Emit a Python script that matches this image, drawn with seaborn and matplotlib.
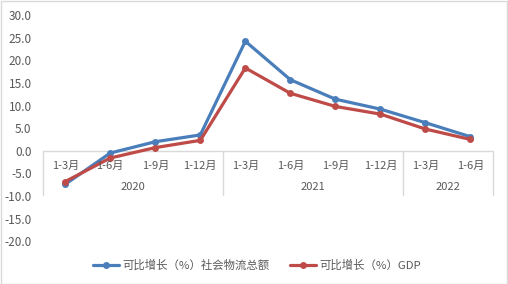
import matplotlib
matplotlib.use("Agg")
import matplotlib.pyplot as plt
from matplotlib.patches import Rectangle
import seaborn as sns
import pandas as pd

periods = ["1-3月", "1-6月", "1-9月", "1-12月", "1-3月", "1-6月", "1-9月", "1-12月", "1-3月", "1-6月"]
years = ["2020", "2021", "2022"]
year_sizes = [4, 4, 2]
logistics = [-7.4, -0.5, 2.0, 3.5, 24.2, 15.7, 11.4, 9.2, 6.2, 3.1]
gdp = [-6.8, -1.6, 0.7, 2.3, 18.3, 12.7, 9.8, 8.1, 4.8, 2.5]
series_names = ["可比增长（%）社会物流总额", "可比增长（%）GDP"]
y_ticks = [-20, -15, -10, -5, 0, 5, 10, 15, 20, 25, 30]

sns.set_theme(style="white")
plt.rcParams["font.family"] = ["Noto Sans CJK SC", "DejaVu Sans"]

n = len(periods)
df = pd.DataFrame({
    "idx": list(range(n)) * 2,
    "value": logistics + gdp,
    "series": [series_names[0]] * n + [series_names[1]] * n,
})

fig = plt.figure(figsize=(5.08, 2.84), dpi=100)
ax = fig.add_axes([42.7 / 508, 1 - 241.3 / 284, (493 - 42.7) / 508, (241.3 - 15) / 284])

palette = {series_names[0]: "#4A7EBB", series_names[1]: "#BE4B48"}
sns.lineplot(data=df, x="idx", y="value", hue="series", palette=palette,
             marker="o", markersize=5, markeredgewidth=0, linewidth=2.3,
             sort=False, ax=ax, legend=True)

gray = "#595959"
ax.set_xlim(-0.5, n - 0.5)
ax.set_ylim(-20, 30)
ax.set_yticks(y_ticks)
ax.set_yticklabels([f"{v:.1f}" for v in y_ticks], color=gray, fontsize=8.5)
ax.tick_params(axis="y", length=0, pad=8)
ax.set_xticks([])
ax.set_xlabel("")
ax.set_ylabel("")
for s in ["top", "right", "left", "bottom"]:
    ax.spines[s].set_visible(False)

line_c = "#D9D9D9"
ax.axhline(0, color=line_c, linewidth=1, zorder=0)

# category labels
for i, p in enumerate(periods):
    ax.text(i, -3.3, p, ha="center", va="center", color=gray, fontsize=8)
# year group labels and separators
start = 0
bounds = [-0.5]
for y, sz in zip(years, year_sizes):
    ax.text(start + (sz - 1) / 2, -8.1, y, ha="center", va="center", color=gray, fontsize=8)
    start += sz
    bounds.append(start - 0.5)
for b in bounds:
    ax.plot([b, b], [0, -9.8], color=line_c, linewidth=1, zorder=0, clip_on=False)

handles, labels = ax.get_legend_handles_labels()
ax.legend(handles, labels, loc="center", bbox_to_anchor=(0.506, 0.067),
          bbox_transform=fig.transFigure, ncol=2, frameon=False,
          fontsize=8.2, labelcolor=gray, handlelength=2.3, columnspacing=1.75,
          handletextpad=0.3)

fig.patches.append(Rectangle((0.5 / 508, 0.5 / 284), 1 - 1.5 / 508, 1 - 1.5 / 284,
                             transform=fig.transFigure, fill=False,
                             edgecolor="#D9D9D9", linewidth=1))

fig.savefig("out.png", dpi=100)
